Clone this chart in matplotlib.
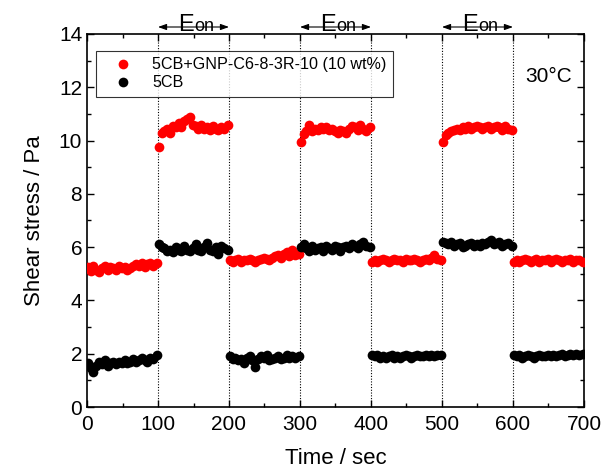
import numpy as np
import matplotlib
matplotlib.use("Agg")
import matplotlib.pyplot as plt
from matplotlib.transforms import blended_transform_factory

plt.rcParams['font.family'] = ['Liberation Sans', 'DejaVu Sans']

# time grid: 25 samples in each 100-s segment (2, 6, ..., 98 s offsets)
segment_starts = [0, 100, 200, 300, 400, 500, 600]
offsets = [1, 5, 9, 13, 17, 21, 25, 29, 33, 37, 41, 45, 49, 53, 57, 61, 65, 69, 73, 77, 81, 85, 89, 93, 98]

# 5CB+GNP-C6-8-3R-10 (10 wt%) shear stress (Pa) per segment
red_seg0 = [5.25, 5.1, 5.3, 5.15, 5.05, 5.2, 5.3, 5.15, 5.25, 5.2, 5.15, 5.3, 5.2, 5.25, 5.15, 5.2, 5.3, 5.35, 5.3, 5.4, 5.25, 5.35, 5.4, 5.3, 5.4]
red_seg1 = [9.75, 10.3, 10.35, 10.45, 10.3, 10.55, 10.5, 10.65, 10.5, 10.75, 10.8, 10.9, 10.6, 10.55, 10.45, 10.6, 10.45, 10.5, 10.4, 10.55, 10.45, 10.4, 10.5, 10.45, 10.6]
red_seg2 = [5.5, 5.45, 5.5, 5.55, 5.45, 5.5, 5.5, 5.55, 5.5, 5.45, 5.5, 5.55, 5.6, 5.55, 5.5, 5.6, 5.65, 5.7, 5.6, 5.75, 5.8, 5.65, 5.9, 5.7, 5.75]
red_seg3 = [9.95, 10.25, 10.35, 10.6, 10.35, 10.45, 10.4, 10.5, 10.45, 10.5, 10.4, 10.45, 10.35, 10.3, 10.4, 10.35, 10.3, 10.45, 10.55, 10.5, 10.4, 10.6, 10.45, 10.35, 10.5]
red_seg4 = [5.45, 5.5, 5.45, 5.5, 5.55, 5.5, 5.45, 5.5, 5.55, 5.5, 5.5, 5.45, 5.55, 5.5, 5.5, 5.55, 5.5, 5.45, 5.5, 5.55, 5.5, 5.6, 5.7, 5.55, 5.5]
red_seg5 = [9.95, 10.2, 10.3, 10.35, 10.4, 10.45, 10.4, 10.5, 10.45, 10.55, 10.45, 10.5, 10.55, 10.5, 10.45, 10.5, 10.55, 10.45, 10.5, 10.55, 10.5, 10.4, 10.55, 10.45, 10.4]
red_seg6 = [5.45, 5.5, 5.45, 5.5, 5.55, 5.5, 5.45, 5.5, 5.55, 5.45, 5.5, 5.5, 5.55, 5.45, 5.5, 5.55, 5.5, 5.45, 5.5, 5.5, 5.55, 5.45, 5.5, 5.5, 5.45]

# 5CB shear stress (Pa) per segment
blk_seg0 = [1.65, 1.45, 1.3, 1.55, 1.7, 1.6, 1.75, 1.55, 1.65, 1.7, 1.6, 1.7, 1.65, 1.75, 1.65, 1.7, 1.8, 1.7, 1.75, 1.85, 1.75, 1.7, 1.85, 1.8, 1.95]
blk_seg1 = [6.1, 6.0, 5.95, 5.85, 5.9, 5.8, 6.0, 5.9, 5.85, 6.05, 5.9, 5.85, 5.95, 6.1, 5.9, 5.85, 6.0, 6.15, 5.9, 5.85, 6.0, 5.75, 6.05, 5.95, 5.9]
blk_seg2 = [1.9, 1.8, 1.85, 1.75, 1.8, 1.65, 1.85, 1.9, 1.75, 1.5, 1.8, 1.9, 1.85, 1.95, 1.75, 1.8, 1.85, 1.9, 1.8, 1.85, 1.95, 1.85, 1.9, 1.85, 1.9]
blk_seg3 = [6.0, 6.1, 5.95, 5.85, 6.05, 5.9, 5.95, 6.0, 5.85, 6.05, 5.95, 5.9, 6.05, 6.0, 5.85, 6.0, 6.05, 5.95, 6.1, 6.05, 5.95, 6.1, 6.2, 6.05, 6.0]
blk_seg4 = [1.95, 1.9, 1.95, 1.85, 1.9, 1.85, 1.9, 1.95, 1.85, 1.9, 1.85, 1.9, 1.95, 1.9, 1.85, 1.9, 1.95, 1.9, 1.9, 1.95, 1.9, 1.95, 1.9, 1.95, 1.95]
blk_seg5 = [6.2, 6.15, 6.1, 6.2, 6.05, 6.1, 6.15, 6.0, 6.05, 6.1, 6.15, 6.05, 6.1, 6.05, 6.15, 6.1, 6.2, 6.25, 6.1, 6.15, 6.2, 6.05, 6.1, 6.15, 6.05]
blk_seg6 = [1.95, 1.9, 1.95, 1.85, 1.9, 1.95, 1.9, 1.85, 1.9, 1.95, 1.9, 1.9, 1.95, 1.9, 1.95, 1.9, 1.95, 2.0, 1.9, 1.95, 2.0, 1.95, 2.0, 1.95, 2.0]

red_label = '5CB+GNP-C6-8-3R-10 (10 wt%)'
blk_label = '5CB'
x_ticks = [0, 100, 200, 300, 400, 500, 600, 700]
y_ticks = [0, 2, 4, 6, 8, 10, 12, 14]
field_on_starts = [100, 300, 500]
switch_times = [100, 200, 300, 400, 500, 600]

red_segs = [red_seg0, red_seg1, red_seg2, red_seg3, red_seg4, red_seg5, red_seg6]
blk_segs = [blk_seg0, blk_seg1, blk_seg2, blk_seg3, blk_seg4, blk_seg5, blk_seg6]

t = np.concatenate([[s + o for o in offsets] for s in segment_starts])
red = np.concatenate(red_segs)
blk = np.concatenate(blk_segs)

fig = plt.figure(figsize=(6.08, 4.72), dpi=100)
ax = fig.add_axes([0.1431, 0.1377, 0.8174, 0.7903])

for s in switch_times:
    ax.axvline(s, color='black', linestyle=(0, (1, 1.5)), linewidth=0.8, zorder=1)

ax.plot(t, red, 'o', color='#ff0000', markersize=7, markeredgewidth=0, label=red_label, zorder=3)
ax.plot(t, blk, 'o', color='black', markersize=7, markeredgewidth=0, label=blk_label, zorder=4)

ax.set_xlim(0, 700)
ax.set_ylim(0, 14)
ax.set_xticks(x_ticks)
ax.set_yticks(y_ticks)
ax.set_xticks(np.array(x_ticks[:-1]) + 50, minor=True)
ax.set_yticks(np.array(y_ticks[:-1]) + 1, minor=True)
ax.tick_params(which='both', direction='in', top=True, right=True, labelsize=15, width=1.0, color='black')
ax.tick_params(which='major', length=5)
ax.tick_params(which='minor', length=3)
ax.tick_params(axis='x', pad=6)
for sp in ax.spines.values():
    sp.set_linewidth(1.2)

ax.set_xlabel('Time / sec', fontsize=16, labelpad=10)
ax.set_ylabel('Shear stress / Pa', fontsize=16, labelpad=10)

leg = ax.legend(loc='upper left', bbox_to_anchor=(0.018, 0.955), borderaxespad=0,
                fontsize=11.6, frameon=True, fancybox=False, handletextpad=0.5,
                handlelength=2.6, borderpad=0.4, labelspacing=0.2, markerscale=1.0)
leg.get_frame().set_edgecolor('black')
leg.get_frame().set_linewidth(0.8)

ax.text(0.975, 0.885, '30°C', transform=ax.transAxes, ha='right', va='center', fontsize=15)

trans = blended_transform_factory(ax.transData, fig.transFigure)
y_arrow = 1 - 27 / 472
y_base = 1 - 31 / 472
for s in field_on_starts:
    ax.annotate('', xy=(s, y_arrow), xytext=(s + 100, y_arrow), xycoords=trans, textcoords=trans,
                arrowprops=dict(arrowstyle='<|-|>,head_length=0.5,head_width=0.18', color='black',
                                linewidth=0.8, shrinkA=0, shrinkB=0), annotation_clip=False)
    ax.text(s + 51, y_base, 'E', transform=trans, ha='right', va='baseline', fontsize=17, clip_on=False)
    ax.text(s + 51, y_base, 'on', transform=trans, ha='left', va='baseline', fontsize=13, clip_on=False)

fig.savefig('out.png', dpi=100)
